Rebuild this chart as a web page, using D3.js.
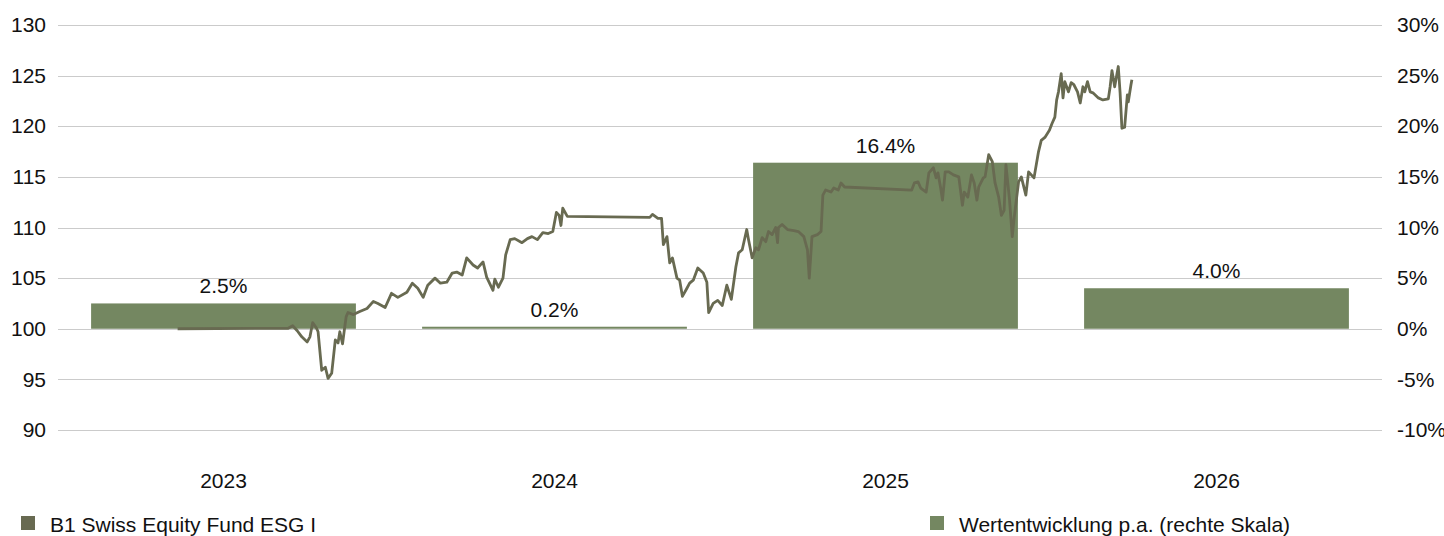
<!DOCTYPE html>
<html>
<head>
<meta charset="utf-8">
<script src="https://cdn.jsdelivr.net/npm/d3@7"></script>
<style>
  body { margin: 0; background: #fff; }
  svg { display: block; font-family: "Liberation Sans", Arial, sans-serif; }
</style>
</head>
<body>
<div id="chart"></div>
<script>
(function () {
  'use strict';

  // yearly performance bars (right scale, %)
  var years = ["2023", "2024", "2025", "2026"];
  var yearlyReturns = [2.5, 0.2, 16.4, 4.0];

  // fund price series (left scale)
  var priceDates = [
    "2023-05-13", "2023-09-12", "2023-09-17", "2023-09-22", "2023-09-27", "2023-10-03", "2023-10-06",
    "2023-10-09", "2023-10-13", "2023-10-15", "2023-10-19", "2023-10-23", "2023-10-26", "2023-10-30",
    "2023-11-03", "2023-11-06", "2023-11-08", "2023-11-11", "2023-11-13", "2023-11-15", "2023-11-17",
    "2023-11-23", "2023-11-30", "2023-12-08", "2023-12-15", "2023-12-20", "2023-12-28",
    "2024-01-04", "2024-01-11", "2024-01-21", "2024-01-27", "2024-02-02", "2024-02-08", "2024-02-13",
    "2024-02-21", "2024-02-27", "2024-03-05", "2024-03-11", "2024-03-16", "2024-03-22", "2024-03-27",
    "2024-04-03", "2024-04-08", "2024-04-14", "2024-04-18", "2024-04-25", "2024-04-27", "2024-05-01",
    "2024-05-06", "2024-05-09", "2024-05-14", "2024-05-19", "2024-05-27", "2024-06-02", "2024-06-07",
    "2024-06-13", "2024-06-19", "2024-06-25", "2024-06-30", "2024-07-04", "2024-07-07", "2024-07-09",
    "2024-07-11", "2024-07-16", "2024-10-15", "2024-10-18", "2024-10-24", "2024-10-28", "2024-10-30",
    "2024-11-03", "2024-11-06", "2024-11-09", "2024-11-14", "2024-11-17", "2024-11-20", "2024-11-25",
    "2024-11-28", "2024-12-02", "2024-12-07", "2024-12-13", "2024-12-17", "2024-12-19", "2024-12-24",
    "2024-12-29",
    "2025-01-03", "2025-01-08", "2025-01-13", "2025-01-18", "2025-01-21", "2025-01-25", "2025-01-30",
    "2025-02-01", "2025-02-05", "2025-02-09", "2025-02-12", "2025-02-16", "2025-02-20", "2025-02-23",
    "2025-02-27", "2025-03-03", "2025-03-05", "2025-03-06", "2025-03-10", "2025-03-16", "2025-03-23",
    "2025-03-28", "2025-04-03", "2025-04-07", "2025-04-09", "2025-04-12", "2025-04-18", "2025-04-22",
    "2025-04-24", "2025-04-27", "2025-05-03", "2025-05-06", "2025-05-11", "2025-05-14", "2025-05-18",
    "2025-07-31", "2025-08-03", "2025-08-07", "2025-08-10", "2025-08-16", "2025-08-19", "2025-08-24",
    "2025-08-27", "2025-08-29", "2025-09-01", "2025-09-03", "2025-09-06", "2025-09-10", "2025-09-15",
    "2025-09-21", "2025-09-25", "2025-09-27", "2025-10-01", "2025-10-05", "2025-10-08", "2025-10-11",
    "2025-10-13", "2025-10-18", "2025-10-20", "2025-10-24", "2025-10-28", "2025-10-31", "2025-11-04",
    "2025-11-07", "2025-11-10", "2025-11-12", "2025-11-16", "2025-11-19", "2025-11-21", "2025-11-26",
    "2025-11-29", "2025-12-04", "2025-12-07", "2025-12-13", "2025-12-18", "2025-12-21", "2025-12-25",
    "2025-12-30",
    "2026-01-02", "2026-01-05", "2026-01-07", "2026-01-09", "2026-01-12", "2026-01-14", "2026-01-16",
    "2026-01-20", "2026-01-23", "2026-01-26", "2026-01-30", "2026-02-02", "2026-02-05", "2026-02-07",
    "2026-02-10", "2026-02-13", "2026-02-16", "2026-02-22", "2026-02-27", "2026-03-05", "2026-03-07",
    "2026-03-09", "2026-03-12", "2026-03-16", "2026-03-18", "2026-03-20", "2026-03-23", "2026-03-26",
    "2026-03-27", "2026-03-30", "2026-03-31"
  ];
  var priceValues = [
    100.0, 100.05, 100.3, 99.8, 99.2, 98.7, 99.2,
    100.6, 100.1, 99.7, 95.9, 96.2, 95.1, 95.6,
    98.9, 98.6, 99.7, 98.5, 99.9, 101.2, 101.6,
    101.4, 101.7, 102.0, 102.7, 102.5, 102.1,
    103.5, 103.1, 103.6, 104.5, 104.0, 103.1, 104.3,
    105.0, 104.5, 104.6, 105.5, 105.6, 105.3, 107.0,
    106.3, 106.0, 106.6, 105.1, 103.8, 104.9, 104.1,
    105.0, 107.3, 108.8, 108.9, 108.5, 108.9, 109.1,
    108.8, 109.5, 109.4, 109.6, 111.5, 111.2, 110.2,
    111.9, 111.1, 111.0, 111.3, 110.9, 110.9, 108.3,
    109.1, 106.5, 107.0, 105.0, 104.8, 103.2, 104.0,
    104.5, 104.8, 106.0, 105.5, 104.6, 101.6, 102.5,
    102.8,
    102.3, 104.3, 102.9, 106.1, 107.5, 107.8, 109.8,
    108.8, 107.0, 108.0, 107.8, 109.0, 108.6, 109.6,
    109.3, 110.0, 108.5, 110.0, 110.3, 109.8, 109.7,
    109.6, 109.1, 107.8, 105.0, 109.1, 109.3, 109.6,
    113.2, 113.7, 113.5, 113.9, 113.7, 114.4, 114.0,
    113.7, 114.4, 114.5, 113.9, 113.5, 115.4, 115.9,
    114.9, 115.4, 113.9, 112.7, 115.5, 115.5, 115.2,
    115.0, 112.2, 113.5, 113.0, 115.2, 114.4, 112.7,
    114.0, 114.9, 115.0, 117.2, 116.5, 114.4, 113.0,
    111.2, 111.7, 116.2, 112.7, 109.1, 110.9, 114.5,
    115.0, 113.2, 115.5, 114.9, 117.5, 118.6, 118.9,
    119.6,
    120.3, 120.9, 122.6, 123.4, 125.2, 122.8, 124.4,
    123.4, 124.3, 124.1, 123.4, 122.3, 123.9, 123.4,
    124.4, 123.4, 123.3, 122.8, 122.6, 122.7, 123.9,
    125.5, 123.9, 125.9, 123.3, 119.8, 119.9, 123.1,
    122.4, 124.1, 124.6
  ];

  var leftTicks = [90, 95, 100, 105, 110, 115, 120, 125, 130];
  var rightTicks = [-10, -5, 0, 5, 10, 15, 20, 25, 30];
  var seriesNames = ["B1 Swiss Equity Fund ESG I", "Wertentwicklung p.a. (rechte Skala)"];

  var width = 1444, height = 536;
  var plotLeft = 58, plotRight = 1382, plotTop = 25, plotBottom = 430;
  var fontSize = 21;
  var lineColor = "#686a51", barColor = "#748761", gridColor = "#cbcbcb";

  var parseDate = d3.timeParse("%Y-%m-%d");
  var prices = priceDates.map(function (d, i) {
    return { date: parseDate(d), value: priceValues[i] };
  });
  var bars = years.map(function (y, i) {
    return { year: y, value: yearlyReturns[i] };
  });

  var svg = d3.select("#chart").append("svg")
    .attr("width", width)
    .attr("height", height);

  var xBand = d3.scaleBand()
    .domain(years)
    .range([plotLeft, plotRight])
    .paddingInner(0.2)
    .paddingOuter(0.1);

  var xTime = d3.scaleTime()
    .domain([new Date(2023, 0, 1), new Date(2027, 0, 1)])
    .range([plotLeft, plotRight]);

  var yLeft = d3.scaleLinear().domain([90, 130]).range([plotBottom, plotTop]);
  var yRight = d3.scaleLinear().domain([-10, 30]).range([plotBottom, plotTop]);

  function styleAxis(g) {
    g.select(".domain").remove();
    g.selectAll("text")
      .attr("font-size", fontSize).attr("fill", "#111")
      .style("font-family", "Liberation Sans, Arial, sans-serif");
  }

  // gridlines
  svg.append("g").selectAll("line")
    .data(leftTicks)
    .enter().append("line")
    .attr("x1", plotLeft).attr("x2", plotRight)
    .attr("y1", function (d) { return Math.round(yLeft(d)) + 0.5; })
    .attr("y2", function (d) { return Math.round(yLeft(d)) + 0.5; })
    .attr("stroke", gridColor)
    .attr("stroke-width", 1);

  // left axis
  svg.append("g")
    .attr("transform", "translate(" + plotLeft + ",0)")
    .call(d3.axisLeft(yLeft).tickValues(leftTicks).tickSize(0).tickPadding(12))
    .call(styleAxis);

  // right axis
  svg.append("g")
    .attr("transform", "translate(" + plotRight + ",0)")
    .call(d3.axisRight(yRight).tickValues(rightTicks).tickSize(0).tickPadding(15)
      .tickFormat(function (d) { return d + "%"; }))
    .call(styleAxis);

  // year labels
  svg.append("g")
    .attr("transform", "translate(0," + plotBottom + ")")
    .call(d3.axisBottom(xBand).tickSize(0).tickPadding(43))
    .call(styleAxis);

  // bars
  svg.append("g").selectAll("rect")
    .data(bars)
    .enter().append("rect")
    .attr("x", function (d) { return xBand(d.year); })
    .attr("width", xBand.bandwidth())
    .attr("y", function (d) { return yRight(Math.max(0, d.value)); })
    .attr("height", function (d) { return Math.abs(yRight(d.value) - yRight(0)); })
    .attr("fill", barColor);

  // bar labels
  svg.append("g").selectAll("text")
    .data(bars)
    .enter().append("text")
    .attr("x", function (d) { return xBand(d.year) + xBand.bandwidth() / 2; })
    .attr("y", function (d) { return yRight(d.value) - 10; })
    .attr("text-anchor", "middle")
    .attr("font-size", fontSize)
    .attr("fill", "#111")
    .text(function (d) { return d.value.toFixed(1) + "%"; });

  // price line
  var line = d3.line()
    .x(function (d) { return xTime(d.date); })
    .y(function (d) { return yLeft(d.value); });

  svg.append("path")
    .datum(prices)
    .attr("d", line)
    .attr("fill", "none")
    .attr("stroke", lineColor)
    .attr("stroke-width", 2.8)
    .attr("stroke-linejoin", "round");

  // legend
  var legendItems = [
    { name: seriesNames[0], color: lineColor, x: 21 },
    { name: seriesNames[1], color: barColor, x: 930 }
  ];
  var legend = svg.append("g").selectAll("g")
    .data(legendItems)
    .enter().append("g")
    .attr("transform", function (d) { return "translate(" + d.x + ",516)"; });
  legend.append("rect")
    .attr("width", 14).attr("height", 14)
    .attr("fill", function (d) { return d.color; });
  legend.append("text")
    .attr("x", 29).attr("y", 15.5)
    .attr("font-size", fontSize)
    .attr("fill", "#111")
    .text(function (d) { return d.name; });
}());
</script>
</body>
</html>
